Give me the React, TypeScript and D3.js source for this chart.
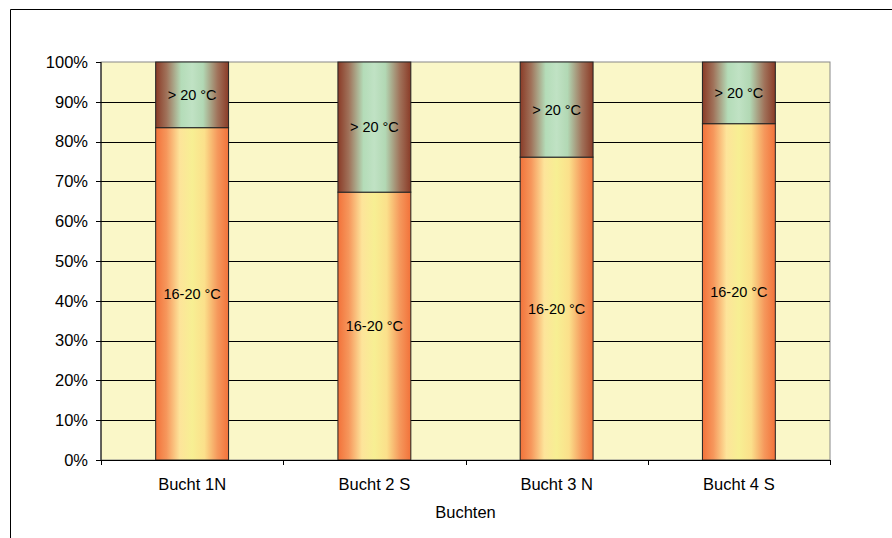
import React from "react";
import * as d3 from "d3";

const categories = ["Bucht 1N", "Bucht 2 S", "Bucht 3 N", "Bucht 4 S"];
const lowValues = [83.5, 67.3, 76.1, 84.5];
const highValues = [16.5, 32.7, 23.9, 15.5];
const lowLabel = "16-20 °C";
const highLabel = "> 20 °C";
const yTicks = [0, 10, 20, 30, 40, 50, 60, 70, 80, 90, 100];
const xTitle = "Buchten";

const W = 892, H = 538;
const plot = { left: 101, right: 830, top: 62, bottom: 460 };

export default function App() {
  const x = d3.scaleBand<string>().domain(categories).range([plot.left, plot.right]).paddingInner(0.6).paddingOuter(0.3);
  const y = d3.scaleLinear().domain([0, 100]).range([plot.bottom, plot.top]);
  const font = "'Liberation Sans', Arial, sans-serif";
  const axisFs = 16.5;
  const barFs = 14.5;
  const boundaries = d3.range(categories.length + 1).map(i => plot.left + (i * (plot.right - plot.left)) / categories.length);
  return (
    <svg width={W} height={H} style={{ position: "absolute", left: 0, top: 0 }}>
      <defs>
        <linearGradient id="gLow" x1="0" x2="1" y1="0" y2="0">
          <stop offset="0" stopColor="#f2723a" />
          <stop offset="0.15" stopColor="#f6975c" />
          <stop offset="0.33" stopColor="#fde49a" />
          <stop offset="0.5" stopColor="#f7ef93" />
          <stop offset="0.67" stopColor="#fbe08b" />
          <stop offset="0.85" stopColor="#f5985c" />
          <stop offset="1" stopColor="#f2723a" />
        </linearGradient>
        <linearGradient id="gHigh" x1="0" x2="1" y1="0" y2="0">
          <stop offset="0" stopColor="#8a3b27" />
          <stop offset="0.15" stopColor="#a0725a" />
          <stop offset="0.35" stopColor="#b4dcb8" />
          <stop offset="0.5" stopColor="#c0e2c4" />
          <stop offset="0.65" stopColor="#b2d8b4" />
          <stop offset="0.85" stopColor="#a0725a" />
          <stop offset="1" stopColor="#8a3b27" />
        </linearGradient>
      </defs>
      <rect x={0} y={0} width={W} height={H} fill="#fff" />
      <path d={`M10.5,${H} V9.5 H${W}`} fill="none" stroke="#000" strokeWidth={1} />
      <rect x={plot.left} y={plot.top} width={plot.right - plot.left} height={plot.bottom - plot.top} fill="#faf7c8" stroke="#888" strokeWidth={1} />
      {yTicks.map(t => (
        <g key={t}>
          {t > 0 && t < 100 && <line x1={plot.left} x2={plot.right} y1={Math.round(y(t)) + 0.5} y2={Math.round(y(t)) + 0.5} stroke="#000" />}
          <line x1={plot.left - 5} x2={plot.left} y1={Math.round(y(t)) + 0.5} y2={Math.round(y(t)) + 0.5} stroke="#000" />
          <text x={plot.left - 13} y={y(t)} dy="0.35em" textAnchor="end" fontFamily={font} fontSize={axisFs} fill="#000">{t}%</text>
        </g>
      ))}
      {categories.map((c, i) => {
        const bx = x(c)!, bw = x.bandwidth();
        const yl = y(lowValues[i]);
        const yh = y(lowValues[i] + highValues[i]);
        return (
          <g key={c}>
            <rect x={bx} y={yl} width={bw} height={plot.bottom - yl} fill="url(#gLow)" stroke="#222" strokeWidth={1} />
            <rect x={bx} y={yh} width={bw} height={yl - yh} fill="url(#gHigh)" stroke="#222" strokeWidth={1} />
            <text x={bx + bw / 2} y={(yl + plot.bottom) / 2} dy="0.35em" textAnchor="middle" fontFamily={font} fontSize={barFs} fill="#000">{lowLabel}</text>
            <text x={bx + bw / 2} y={(yh + yl) / 2} dy="0.35em" textAnchor="middle" fontFamily={font} fontSize={barFs} fill="#000">{highLabel}</text>
            <text x={bx + bw / 2} y={490} textAnchor="middle" fontFamily={font} fontSize={axisFs} fill="#000">{c}</text>
          </g>
        );
      })}
      <line x1={plot.left} x2={plot.left} y1={plot.top} y2={plot.bottom} stroke="#000" />
      <line x1={plot.left} x2={plot.right} y1={plot.bottom + 0.5} y2={plot.bottom + 0.5} stroke="#000" />
      {boundaries.map((bx, i) => (
        <line key={i} x1={Math.round(bx) + 0.5} x2={Math.round(bx) + 0.5} y1={plot.bottom} y2={plot.bottom + 5} stroke="#000" />
      ))}
      <text x={(plot.left + plot.right) / 2} y={518} textAnchor="middle" fontFamily={font} fontSize={axisFs} fill="#000">{xTitle}</text>
    </svg>
  );
}
